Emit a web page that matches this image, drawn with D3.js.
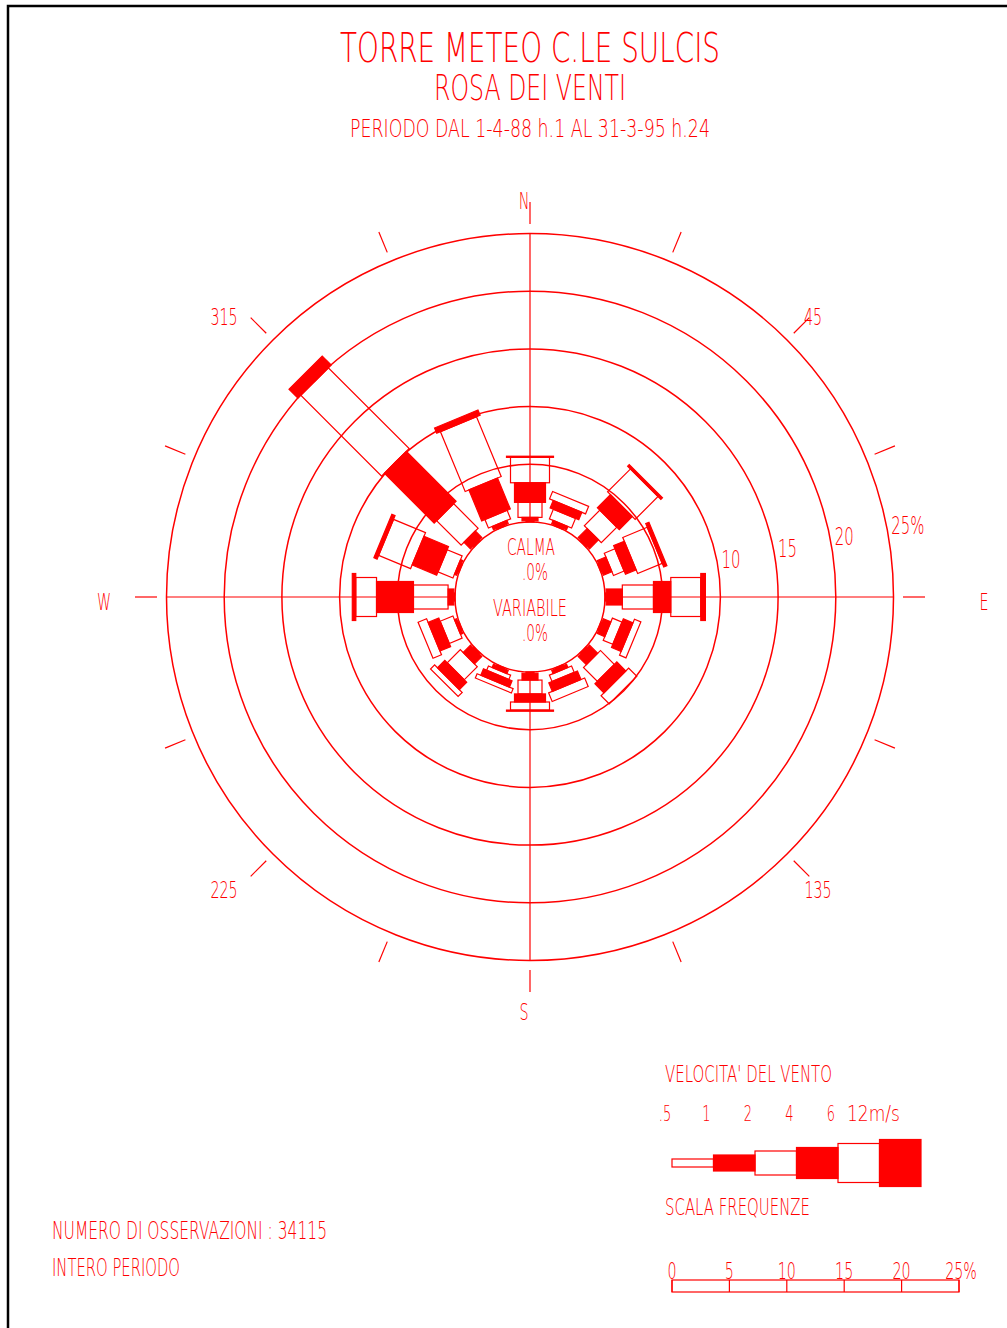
<!DOCTYPE html>
<html>
<head>
<meta charset="utf-8">
<script src="https://cdn.jsdelivr.net/npm/d3@7"></script>
<style>
  body { margin: 0; background: #fff; }
  svg { display: block; }
  text { font-family: "DejaVu Sans", Roboto, sans-serif; font-weight: 200; fill: #f00; }
</style>
</head>
<body>
<svg id="chart" width="1007" height="1328"></svg>
<script>
// 16 directions, clockwise from north
var directions = ["N","NNE","NE","ENE","E","ESE","SE","SSE","S","SSW","SW","WSW","W","WNW","NW","NNW"];
var speedClasses = [".5", "1", "2", "4", "6", "12m/s"];

// frequencies (%) per speed class, one value per direction
var freq05 = [0.1,0.1,0.1,0.1,0.1,0.1,0.1,0.1,0.1,0.1,0.1,0.1,0.1,0.1,0.1,0.1];
var freq1  = [0.3,0.3,1.1,0.8,1.4,0.7,1.0,0.3,0.6,0.3,0.9,0.2,0.5,0.2,0.8,0.3];
var freq2  = [1.3,0.9,1.9,1.0,2.7,0.9,1.7,0.6,1.2,0.4,1.6,1.2,3.0,1.4,3.0,0.8];
var freq4  = [1.7,0.7,1.6,1.0,1.5,0.9,1.1,0.8,0.7,0.6,0.9,1.0,3.2,2.3,6.1,2.9];
var freq6  = [2.2,0.7,2.8,2.3,2.6,0.6,1.0,0.8,0.7,0.4,0.5,0.8,1.8,3.0,9.9,5.6];
var freq12 = [0.1,0.0,0.2,0.3,0.4,0.0,0.0,0.0,0.1,0.0,0.0,0.0,0.3,0.3,1.1,0.5];

var ringValues = [5, 10, 15, 20, 25];
var ringLabels = ["", "10", "15", "20", "25%"];
var compassLabels = ["N", "E", "S", "W"];
var degreeLabels = ["45", "135", "225", "315"];
var scaleTicks = [0, 5, 10, 15, 20, 25];
var scaleTickLabels = ["0", "5", "10", "15", "20", "25%"];

var red = "#ff0000";
var cx = 530, cy = 597;
var barW = [8, 16, 24, 31, 39, 47];

var svg = d3.select("#chart");

// frame
svg.append("path").attr("d", "M8,1328V6H1007").attr("fill", "none").attr("stroke", "#000").attr("stroke-width", 2.5);

function label(x, y, s, size, anchor, len) {
  var t = svg.append("text").attr("x", x).attr("y", y)
    .attr("font-size", size).attr("text-anchor", anchor || "start").text(s);
  var w = len || t.node().getComputedTextLength() * 0.62;
  t.attr("textLength", w).attr("lengthAdjust", "spacingAndGlyphs");
  return t;
}

// titles
label(cx, 62, "TORRE METEO C.LE SULCIS", 40, "middle", 380);
label(cx, 100, "ROSA DEI VENTI", 36, "middle", 192);
label(cx, 137, "PERIODO DAL 1-4-88 h.1 AL 31-3-95 h.24", 24, "middle", 360);

var r = d3.scaleLinear().domain([0, 25]).range([75, 363.5]);
function pt(a, rad) {
  var t = a * Math.PI / 180;
  return [cx + rad * Math.sin(t), cy - rad * Math.cos(t)];
}

// calm circle + rings
svg.append("circle").attr("cx", cx).attr("cy", cy).attr("r", r(0))
  .attr("fill", "none").attr("stroke", red).attr("stroke-width", 1.5);
svg.selectAll("circle.ring").data(ringValues).join("circle").attr("class", "ring")
  .attr("cx", cx).attr("cy", cy).attr("r", function(d) { return r(d); })
  .attr("fill", "none").attr("stroke", red).attr("stroke-width", 1.5);

// axes
[0, 90, 180, 270].forEach(function(a) {
  var p0 = pt(a, r(0)), p1 = pt(a, r(25));
  svg.append("line").attr("x1", p0[0]).attr("y1", p0[1]).attr("x2", p1[0]).attr("y2", p1[1])
    .attr("stroke", red).attr("stroke-width", 1.2);
});

// outer ticks
directions.forEach(function(d, i) {
  var p0 = pt(i * 22.5, 373), p1 = pt(i * 22.5, 395);
  svg.append("line").attr("x1", p0[0]).attr("y1", p0[1]).attr("x2", p1[0]).attr("y2", p1[1])
    .attr("stroke", red).attr("stroke-width", 1.2);
});

// ring labels
ringValues.forEach(function(v, i) {
  if (!ringLabels[i]) return;
  var p = pt(78.5, r(v));
  label(p[0] + 5, p[1] + 9, ringLabels[i], 24, "start");
});

// compass + degree labels
var compassPos = [[cx - 6, 209], [984, 610], [cx - 6, 1020], [104, 610]];
compassLabels.forEach(function(s, i) { label(compassPos[i][0], compassPos[i][1], s, 23, "middle"); });
var degPos = [[813, 325], [818, 898], [224, 898], [224, 325]];
degreeLabels.forEach(function(s, i) { label(degPos[i][0], degPos[i][1], s, 23, "middle"); });

// centre
label(cx + 1, 555, "CALMA", 23, "middle", 48);
label(cx + 5, 580, ".0%", 23, "middle", 26);
label(cx, 616, "VARIABILE", 23, "middle", 74);
label(cx + 5, 641, ".0%", 23, "middle", 26);

// wind rose bars
var keys = ["c05", "c1", "c2", "c4", "c6", "c12"];
var rows = directions.map(function(d, i) {
  return { dir: d, c05: freq05[i], c1: freq1[i], c2: freq2[i], c4: freq4[i], c6: freq6[i], c12: freq12[i] };
});
var series = d3.stack().keys(keys)(rows);

var dirG = svg.selectAll("g.dir").data(rows).join("g").attr("class", "dir")
  .attr("transform", function(d, i) { return "translate(" + cx + "," + cy + ") rotate(" + (i * 22.5) + ")"; });

series.forEach(function(s, k) {
  dirG.filter(function(d, i) { return s[i][1] - s[i][0] > 0; })
    .append("rect")
    .attr("x", -barW[k] / 2)
    .attr("width", barW[k])
    .attr("y", function(d) { var i = directions.indexOf(d.dir); return -r(s[i][1]); })
    .attr("height", function(d) { var i = directions.indexOf(d.dir); return r(s[i][1]) - r(s[i][0]); })
    .attr("fill", k % 2 ? red : "none")
    .attr("stroke", red)
    .attr("stroke-width", 1.2);
});

// speed legend
label(665, 1082, "VELOCITA' DEL VENTO", 23, "start", 167);
var band = d3.scaleBand().domain(speedClasses).range([672, 921]);
speedClasses.forEach(function(s, k) {
  if (k < 5) label(band(s) - 7, 1121, s, 21, "middle");
  else label(band(speedClasses[4]) + 9, 1121, s, 21, "start", 53);
});
svg.selectAll("rect.leg").data(speedClasses).join("rect").attr("class", "leg")
  .attr("x", function(d) { return band(d); })
  .attr("width", band.bandwidth())
  .attr("y", function(d, k) { return 1163 - barW[k] / 2; })
  .attr("height", function(d, k) { return barW[k]; })
  .attr("fill", function(d, k) { return k % 2 ? red : "none"; })
  .attr("stroke", red).attr("stroke-width", 1.2);

label(665, 1215, "SCALA FREQUENZE", 23, "start", 145);

// frequency scale
var fx = d3.scaleLinear().domain([0, 25]).range([672, 959]);
svg.append("rect").attr("x", fx(0)).attr("y", 1280).attr("width", fx(25) - fx(0)).attr("height", 12)
  .attr("fill", "none").attr("stroke", red).attr("stroke-width", 1.2);
scaleTicks.forEach(function(v, i) {
  svg.append("line").attr("x1", fx(v)).attr("x2", fx(v)).attr("y1", 1280).attr("y2", 1292)
    .attr("stroke", red).attr("stroke-width", 1.2);
  label(fx(v) + (i === 5 ? 2 : 0), 1279, scaleTickLabels[i], 23, "middle");
});

// footer
label(52, 1239, "NUMERO DI OSSERVAZIONI : 34115", 24, "start", 275);
label(52, 1276, "INTERO PERIODO", 24, "start", 128);
</script>
</body>
</html>
